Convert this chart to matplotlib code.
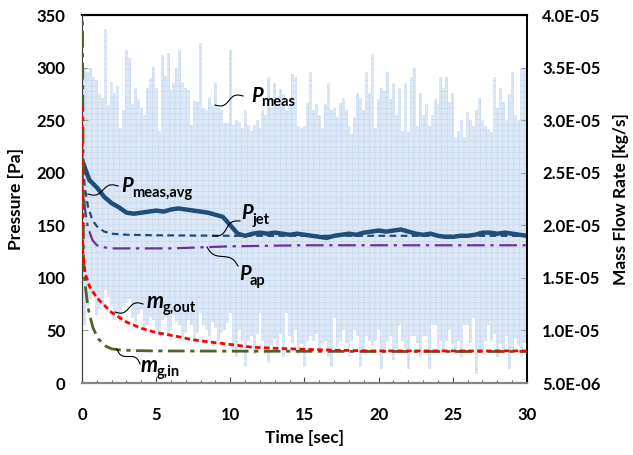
import numpy as np
import matplotlib
matplotlib.use("Agg")
import matplotlib.pyplot as plt
from matplotlib.lines import Line2D

plt.rcParams['font.family'] = ['Lato', 'DejaVu Sans']
plt.rcParams['hatch.linewidth'] = 0.5

# ---------------- data ----------------
# measured pressure: upper and lower envelope of the raw signal (every 0.2 s) [Pa]
p_meas_upper = [290, 300, 296, 300, 291, 288, 275, 271, 337, 264, 286, 276, 282, 243, 260,
                317, 309, 265, 281, 270, 262, 255, 281, 290, 301, 281, 240, 312, 292, 314,
                280, 285, 300, 317, 286, 281, 279, 245, 268, 267, 323, 262, 260, 271, 263,
                285, 262, 260,
                247, 247, 317, 245, 250, 248, 243, 260, 245, 240, 245, 250, 243, 260, 255,
                291, 262, 285, 265, 280, 275, 260, 263, 294, 291, 244, 243, 244, 266, 296,
                260, 265, 255, 243, 265, 285, 260, 262, 253, 266, 271, 260, 244, 237, 253,
                276, 271, 260, 296, 276, 313,
                243, 270, 281, 278, 296, 270, 285, 255, 281, 240, 285, 239, 291, 300, 244,
                276, 255, 265, 244, 255, 270, 265, 291, 281, 291, 267, 276, 234, 240, 250,
                234, 258, 250, 244, 260, 271, 250, 244, 242, 239, 291, 262, 281, 267, 250,
                275, 296, 255, 250, 300, 300, 300]
p_meas_lower = [60, 55, 72, 80, 85, 65, 70, 75, 88, 82, 72, 60, 65, 58, 72, 76, 80, 62, 58, 66,
                70, 52, 55, 63, 60, 50, 45, 60, 62, 45, 50, 65, 58, 55, 40, 48, 60, 55, 42, 48,
                67, 55, 50, 45, 58, 52, 40, 48,
                50, 57, 67, 30, 25, 50, 40, 15, 40, 45, 28, 47, 67, 40, 28, 19, 35, 42, 31, 47,
                25, 67, 45, 38, 50, 28, 37, 15, 40, 45, 40, 47, 30, 37, 40, 25, 15, 62, 34, 40,
                50, 38, 25, 40, 50, 45, 15, 30, 45, 40, 36,
                40, 50, 13, 30, 40, 45, 22, 32, 55, 40, 32, 13, 45, 45, 38, 25, 45, 45, 13, 55,
                55, 32, 40, 30, 40, 50, 37, 28, 40, 25, 55, 55, 38, 62, 9, 30, 28, 40, 55, 40,
                47, 25, 37, 28, 45, 13, 30, 42, 35, 25, 38, 30]

# averaged measured pressure (every 0.5 s) [Pa]
p_meas_avg = [212, 193, 186, 177, 171, 167, 162, 161, 162, 163, 164, 163, 165, 166, 165, 164,
              163, 162, 160, 158, 150, 142, 140, 142, 143, 142, 143, 142, 141, 142, 141, 140,
              139, 138, 140, 141, 142, 141, 143, 144, 145, 144, 145, 146, 144, 142, 141, 142,
              140, 139, 139, 140, 140, 141, 143, 143, 142, 143, 142, 141, 140]

t_jet = [0, 0.1, 0.2, 0.4, 0.7, 1.0, 1.5, 2, 3, 5, 10, 15, 20, 25, 30]
p_jet = [215, 200, 185, 168, 155, 149, 144, 142, 141, 140.5, 140, 140, 140, 140, 140]

t_ap = [0, 0.1, 0.2, 0.4, 0.7, 1.0, 1.5, 2, 4, 6, 8, 10, 15, 20, 25, 30]
p_ap = [205, 185, 165, 148, 136, 131, 129, 128, 128, 128, 129, 130, 131, 131, 131, 131]

t_out = [0, 0.05, 0.2, 0.5, 1, 2, 3, 4, 5, 6.5, 7.5, 8.6, 9.8, 11.5, 13, 16.4, 19.5, 22, 25, 30]
m_out = [3.13e-5, 1.75e-5, 1.55e-5, 1.42e-5, 1.31e-5, 1.17e-5, 1.08e-5, 1.02e-5, 9.8e-6,
         9.4e-6, 9.1e-6, 8.9e-6, 8.7e-6, 8.4e-6, 8.3e-6, 8.14e-6, 8.05e-6, 8.05e-6, 8.05e-6,
         8.05e-6]

t_in = [0, 0.1, 0.2, 0.4, 0.55, 0.75, 1.1, 1.6, 2.0, 2.5, 3.5, 5, 10, 20, 30]
m_in = [5.0e-5, 1.7e-5, 1.45e-5, 1.22e-5, 1.13e-5, 1.02e-5, 9.2e-6, 8.5e-6, 8.25e-6,
        8.15e-6, 8.08e-6, 8.05e-6, 8.03e-6, 8.0e-6, 8.0e-6]

x_ticks = [0, 5, 10, 15, 20, 25, 30]
p_ticks = [0, 50, 100, 150, 200, 250, 300, 350]
m_ticks = [5e-6, 1e-5, 1.5e-5, 2e-5, 2.5e-5, 3e-5, 3.5e-5, 4e-5]

# ---------------- figure ----------------
W, H = 633, 455
fig = plt.figure(figsize=(W / 100, H / 100), dpi=100)
ax = fig.add_axes([82 / W, 1 - 383 / H, 445 / W, 368 / H])
ax2 = ax.twinx()

t_up = np.linspace(0, 30, len(p_meas_upper))
t_lo = np.linspace(0, 30, len(p_meas_lower))
ax.fill_between(t_up, 0, p_meas_upper, step='mid', facecolor='#dde8f6',
                edgecolor='#c8d9f0', hatch='+++', linewidth=0, zorder=1)
ax.fill_between(t_lo, 0, p_meas_lower, step='mid', facecolor='white',
                edgecolor='none', linewidth=0, zorder=1.5)

t_avg = np.linspace(0, 30, len(p_meas_avg))
ax.plot(t_avg, p_meas_avg, color='#1f4e79', lw=3.2, zorder=5, solid_joinstyle='round')
ax.plot(t_jet, p_jet, color='#1f4e79', lw=1.6, dashes=(3, 2), zorder=4)
ax.plot(t_ap, p_ap, color='#7030a0', lw=1.6, dashes=(8, 2.5, 1.5, 2.5), zorder=4)

ax2.plot(t_in, m_in, color='#4f6228', lw=2.0, dashes=(6, 2, 1.5, 2), zorder=4)
ax2.plot(t_out, m_out, color='#ff0000', lw=2.0, dashes=(2, 1.2), zorder=5)

ax.set_xlim(0, 30)
ax.set_ylim(0, 350)
ax2.set_ylim(5e-6, 4e-5)

ax.set_xticks(x_ticks)
ax.set_xticks(np.arange(0, 31, 1), minor=True)
ax.set_yticks(p_ticks)
ax2.set_yticks(m_ticks)
ax2.set_yticklabels([f"{v:.1E}" for v in m_ticks])

for lab in ax.get_xticklabels() + ax.get_yticklabels() + ax2.get_yticklabels():
    lab.set_fontsize(12)
    lab.set_fontweight('bold')

ax.tick_params(axis='y', direction='in', length=4, color='#a0a0a0', pad=12)
ax.tick_params(axis='x', which='major', direction='in', length=4, color='#404040', pad=17)
ax.tick_params(axis='x', which='minor', direction='in', length=2.5, color='#404040')
ax2.tick_params(axis='y', direction='in', length=4, color='#a0a0a0', pad=11)

for a in (ax, ax2):
    a.spines['top'].set_color('black')
    a.spines['top'].set_linewidth(1.5)
    a.spines['right'].set_color('black')
    a.spines['right'].set_linewidth(1.2)
    a.spines['left'].set_color('#404040')
    a.spines['bottom'].set_color('#868686')
    a.spines['bottom'].set_linewidth(1.5)

ax.set_xlabel('Time [sec]', fontsize=12.5, fontweight='bold', labelpad=5)
ax.set_ylabel('Pressure [Pa]', fontsize=12.5, fontweight='bold', labelpad=9)
ax2.set_ylabel('Mass Flow Rate [kg/s]', fontsize=12.5, fontweight='bold', labelpad=9)

# ---------------- labels with wavy leader lines ----------------
def fx(x):
    return x / W

def fy(y):
    return 1 - y / H

def leader(p0, p1, amp=3.0):
    p0 = np.array(p0, float)
    p1 = np.array(p1, float)
    s = np.linspace(0, 1, 40)
    d = p1 - p0
    n = np.array([-d[1], d[0]]) / np.hypot(*d)
    pts = p0[None, :] + s[:, None] * d[None, :] + (amp * np.sin(2 * np.pi * s))[:, None] * n[None, :]
    fig.add_artist(Line2D(fx(pts[:, 0]), fy(pts[:, 1]), color='black', lw=0.8,
                          transform=fig.transFigure, zorder=10))

def label(main, sub, x, y, xs, ys, size=14.5):
    fig.text(fx(x), fy(y), main, fontsize=size, fontweight='bold', fontstyle='italic',
             va='baseline', ha='left', zorder=11)
    fig.text(fx(xs), fy(ys), sub, fontsize=10.5, fontweight='bold',
             va='baseline', ha='left', zorder=11)

label('P', 'meas', 251, 102, 261, 106)
leader((215, 105), (243, 96))
label('P', 'meas,avg', 121, 192, 132, 197)
leader((88, 194), (118, 186))
label('P', 'jet', 241, 219, 252, 224)
leader((213, 236), (240, 221))
label('P', 'ap', 239, 280, 250, 285)
leader((207, 247), (238, 266))
label('m', 'g,out', 147, 308, 163, 312, size=15.5)
leader((115, 312), (143, 304))
label('m', 'g,in', 141, 372, 157, 376, size=15.5)
leader((117, 349), (140, 364))

fig.savefig('out.png', dpi=100)
